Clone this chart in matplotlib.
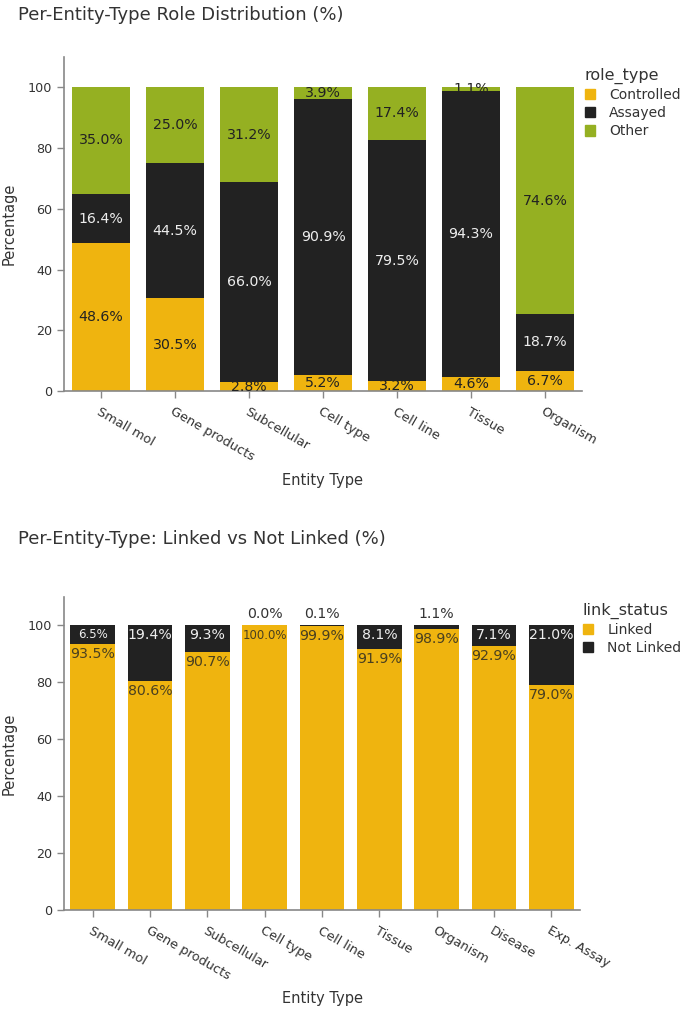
import matplotlib
matplotlib.use("Agg")
import matplotlib.pyplot as plt
from matplotlib.patches import Patch
import numpy as np

plt.rcParams['font.family'] = ['DejaVu Sans']

# ---- data: chart 1 ----
role_entities = ["Small mol", "Gene products", "Subcellular", "Cell type",
                 "Cell line", "Tissue", "Organism"]
role_types = ["Controlled", "Assayed", "Other"]
controlled = [48.6, 30.5, 2.8, 5.2, 3.2, 4.6, 6.7]
assayed = [16.4, 44.5, 66.0, 90.9, 79.5, 94.3, 18.7]
other = [35.0, 25.0, 31.2, 3.9, 17.4, 1.1, 74.6]

# ---- data: chart 2 ----
link_entities = ["Small mol", "Gene products", "Subcellular", "Cell type",
                 "Cell line", "Tissue", "Organism", "Disease", "Exp. Assay"]
link_statuses = ["Linked", "Not Linked"]
linked = [93.5, 80.6, 90.7, 100.0, 99.9, 91.9, 98.9, 92.9, 79.0]
not_linked = [6.5, 19.4, 9.3, 0.0, 0.1, 8.1, 1.1, 7.1, 21.0]

YELLOW = "#EFB40F"
BLACK = "#222222"
GREEN = "#95B022"
GRAY = "#888888"
TXT = "#333333"
LBL = 10.2

fig = plt.figure(figsize=(7, 10.1), dpi=100)

def style_axes(ax, n, labels, xlabel_y):
    ax.set_xlim(-0.5, n - 0.5)
    ax.set_ylim(0, 110)
    ax.set_yticks([0, 20, 40, 60, 80, 100])
    for s in ["top", "right"]:
        ax.spines[s].set_visible(False)
    for s in ["left", "bottom"]:
        ax.spines[s].set_color(GRAY)
        ax.spines[s].set_linewidth(1.2)
    ax.tick_params(axis="both", colors=GRAY, labelcolor=TXT, labelsize=9.2,
                   length=5, width=1)
    ax.tick_params(axis="x", pad=5)
    ax.set_xticks(np.arange(n))
    ax.set_xticklabels(labels, rotation=-30, ha="left",
                       rotation_mode="anchor", fontsize=9.3)
    ax.set_ylabel("Percentage", fontsize=10.5, color=TXT, labelpad=8)
    ax.set_xlabel("Entity Type", fontsize=10.5, color=TXT)
    ax.xaxis.label.set_va("center")
    ax.xaxis.set_label_coords(0.5, xlabel_y)

def add_legend(ax, colors, labels, title, y):
    leg = ax.legend(handles=[Patch(color=col) for col in colors],
                    labels=labels, title=title, loc="upper left",
                    bbox_to_anchor=(0.995, y), frameon=False, fontsize=10,
                    title_fontsize=11.5, handlelength=0.75, handleheight=0.75,
                    handletextpad=1.0, labelspacing=0.3, labelcolor=TXT,
                    borderaxespad=0.0)
    leg._legend_box.align = "left"
    leg.get_title().set_color(TXT)

# ---------------- chart 1 ----------------
H1 = 334
ax1 = fig.add_axes([64/700, 1 - 391/1010, 518/700, H1/1010])
x1 = np.arange(len(role_entities))
w = 0.78
c = np.array(controlled); a = np.array(assayed); o = np.array(other)
ax1.bar(x1, c, w, color=YELLOW)
ax1.bar(x1, a, w, bottom=c, color=BLACK)
ax1.bar(x1, o, w, bottom=c + a, color=GREEN)
for i in range(len(x1)):
    ax1.text(x1[i], c[i] / 2, f"{c[i]:.1f}%", ha="center", va="center",
             fontsize=LBL, color="#222222")
    ax1.text(x1[i], c[i] + a[i] / 2, f"{a[i]:.1f}%", ha="center", va="center",
             fontsize=LBL, color="#eeeeee")
    ax1.text(x1[i], c[i] + a[i] + o[i] / 2, f"{o[i]:.1f}%", ha="center",
             va="center", fontsize=LBL, color="#222222")
style_axes(ax1, len(role_entities), role_entities, -90 / H1)
add_legend(ax1, [YELLOW, BLACK, GREEN], role_types, "role_type", 0.985)
fig.text(18/700, 1 - 15/1010, "Per-Entity-Type Role Distribution (%)",
         fontsize=13, color=TXT, ha="left", va="center")

# ---------------- chart 2 ----------------
H2 = 313
ax2 = fig.add_axes([64/700, 1 - 910/1010, 516/700, H2/1010])
x2 = np.arange(len(link_entities))
l = np.array(linked); nl = np.array(not_linked)
ax2.bar(x2, l, w, color=YELLOW)
ax2.bar(x2, nl, w, bottom=l, color=BLACK)
small_linked = {"Cell type"}
small_not_linked = {"Small mol"}
for i, name in enumerate(link_entities):
    fs_l = 8.5 if name in small_linked else LBL
    fs_n = 8.5 if name in small_not_linked else LBL
    ax2.text(x2[i], l[i] - 3.6, f"{l[i]:.1f}%", ha="center", va="center",
             fontsize=fs_l, color="#4a4020")
    if nl[i] >= 5:
        ax2.text(x2[i], 100 - 3.2, f"{nl[i]:.1f}%", ha="center", va="center",
                 fontsize=fs_n, color="#eeeeee")
    else:
        ax2.text(x2[i], 104, f"{nl[i]:.1f}%", ha="center", va="center",
                 fontsize=LBL, color=TXT)
style_axes(ax2, len(link_entities), link_entities, -88 / H2)
add_legend(ax2, [YELLOW, BLACK], link_statuses, "link_status", 1.0)
fig.text(18/700, 1 - 539/1010, "Per-Entity-Type: Linked vs Not Linked (%)",
         fontsize=13, color=TXT, ha="left", va="center")

fig.savefig("out.png", dpi=100, facecolor="white")
